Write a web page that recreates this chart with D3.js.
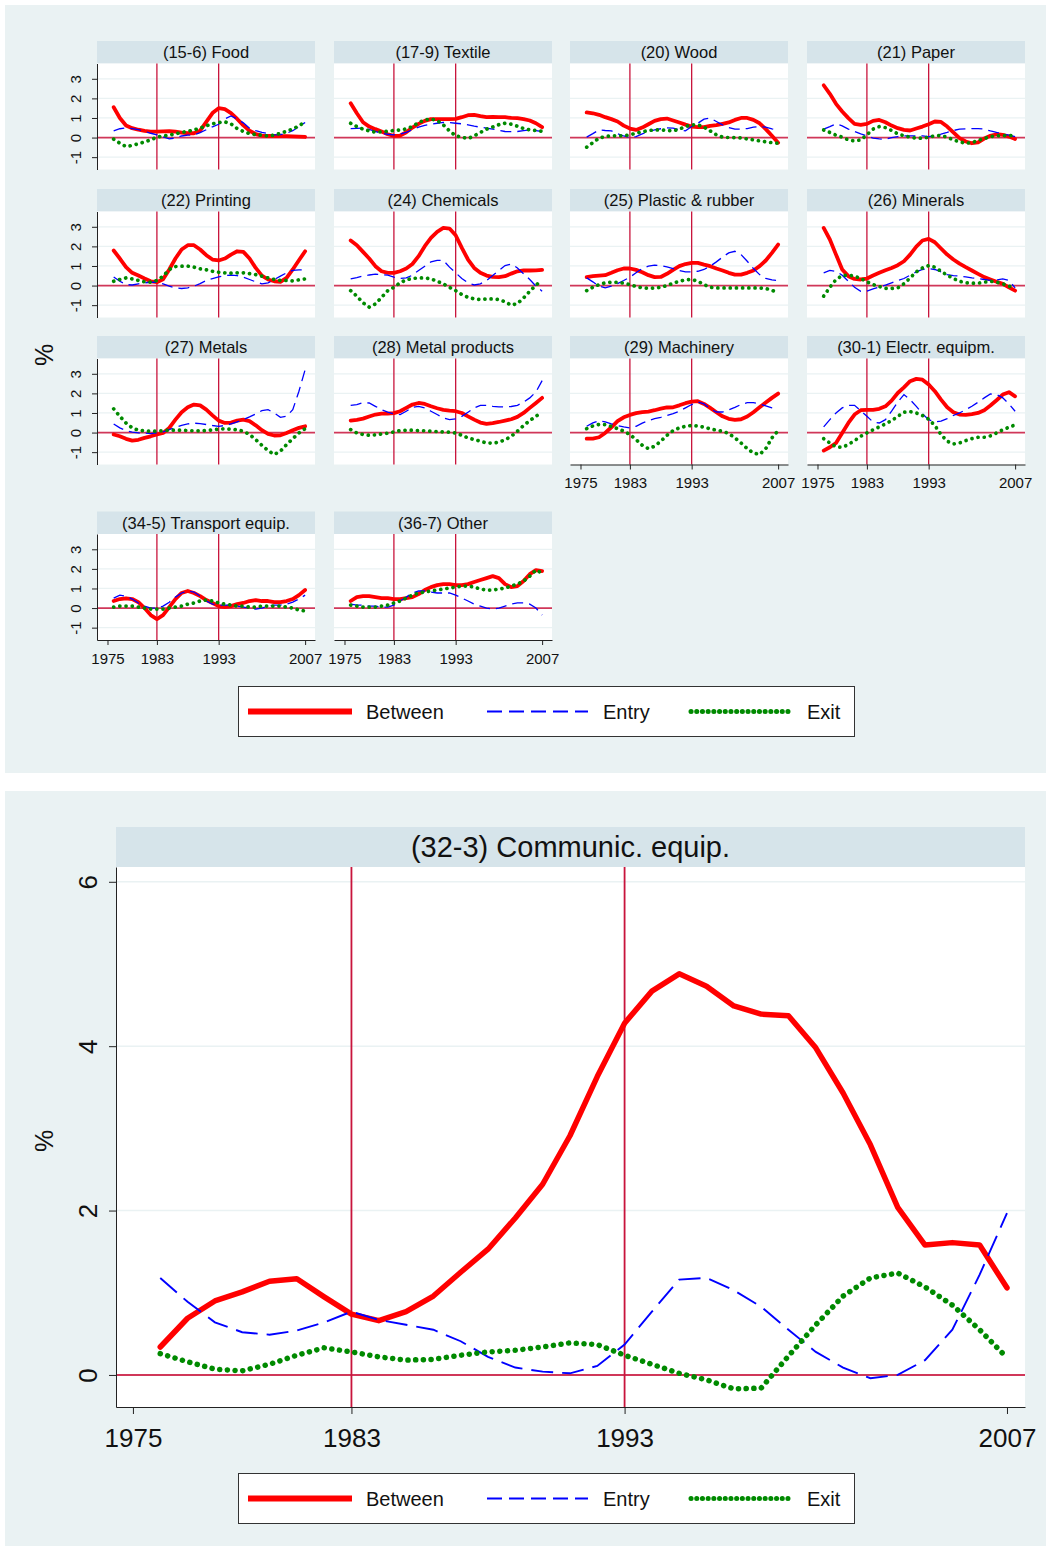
<!DOCTYPE html>
<html>
<head>
<meta charset="utf-8">
<script src="https://cdn.jsdelivr.net/npm/d3@7"></script>
<style>
  body { margin: 0; background: #fff; }
  svg { display: block; font-family: "Liberation Sans", Arial, sans-serif; }
</style>
</head>
<body>
<svg id="chart" width="1051" height="1551"></svg>
<script>
// ---- data: productivity decomposition components (%), by industry ----
const years = [1976,1977,1978,1979,1980,1981,1982,1983,1984,1985,1986,1987,1988,1989,1990,1991,
               1992,1993,1994,1995,1996,1997,1998,1999,2000,2001,2002,2003,2004,2005,2006,2007];
const xTicks = [1975, 1983, 1993, 2007];
const markerYears = [1983, 1993];
const yTicksSmall = [-1, 0, 1, 2, 3];
const yTicksLarge = [0, 2, 4, 6];
const seriesNames = ["Between", "Entry", "Exit"];

const industries = ["(15-6) Food", "(17-9) Textile", "(20) Wood", "(21) Paper",
                    "(22) Printing", "(24) Chemicals", "(25) Plastic & rubber", "(26) Minerals",
                    "(27) Metals", "(28) Metal products", "(29) Machinery", "(30-1) Electr. equipm.",
                    "(34-5) Transport equip.", "(36-7) Other"];

const betweenShares = [
  [1.55,1.0,0.62,0.48,0.40,0.34,0.30,0.30,0.32,0.33,0.30,0.25,0.22,0.22,0.35,0.80,1.25,1.50,1.45,1.25,0.95,0.62,0.35,0.18,0.10,0.08,0.08,0.07,0.07,0.06,0.05,0.03],
  [1.75,1.24,0.78,0.56,0.43,0.31,0.17,0.09,0.10,0.27,0.51,0.70,0.85,0.94,0.94,0.94,0.94,0.95,1.04,1.14,1.16,1.09,1.04,1.05,1.04,1.04,1.00,0.99,0.94,0.87,0.73,0.53],
  [1.28,1.24,1.16,1.04,0.94,0.82,0.61,0.46,0.39,0.51,0.68,0.85,0.94,0.97,0.87,0.77,0.66,0.56,0.53,0.53,0.60,0.63,0.70,0.77,0.90,1.00,1.00,0.90,0.73,0.43,0.09,-0.26],
  [2.67,2.23,1.72,1.33,0.99,0.70,0.65,0.70,0.85,0.90,0.78,0.61,0.48,0.39,0.36,0.46,0.56,0.68,0.82,0.80,0.56,0.26,-0.03,-0.20,-0.29,-0.24,-0.05,0.09,0.17,0.14,0.05,-0.07],
  [1.79,1.38,0.94,0.65,0.51,0.36,0.22,0.17,0.32,0.82,1.38,1.84,2.06,2.06,1.84,1.55,1.33,1.28,1.38,1.58,1.75,1.72,1.38,0.90,0.51,0.31,0.22,0.19,0.39,0.82,1.29,1.75],
  [2.30,2.06,1.72,1.38,0.99,0.73,0.65,0.65,0.73,0.87,1.10,1.50,2.01,2.43,2.74,2.94,2.91,2.57,1.92,1.33,0.90,0.65,0.51,0.44,0.43,0.48,0.61,0.73,0.77,0.77,0.78,0.80],
  [0.43,0.48,0.51,0.53,0.65,0.78,0.87,0.87,0.80,0.68,0.53,0.43,0.44,0.60,0.80,0.99,1.10,1.16,1.16,1.07,0.99,0.87,0.77,0.65,0.56,0.56,0.65,0.77,0.99,1.28,1.67,2.09],
  [2.94,2.35,1.58,0.82,0.48,0.34,0.31,0.36,0.51,0.65,0.78,0.90,1.04,1.24,1.58,1.99,2.30,2.38,2.21,1.89,1.58,1.33,1.12,0.94,0.77,0.60,0.43,0.31,0.19,0.09,-0.09,-0.26],
  [-0.10,-0.19,-0.32,-0.41,-0.37,-0.27,-0.19,-0.10,-0.02,0.24,0.66,1.04,1.29,1.43,1.39,1.17,0.88,0.61,0.49,0.51,0.61,0.66,0.58,0.37,0.12,-0.07,-0.15,-0.14,-0.02,0.12,0.24,0.32],
  [0.61,0.65,0.71,0.82,0.92,0.97,0.97,0.99,1.09,1.26,1.43,1.51,1.46,1.34,1.24,1.16,1.12,1.09,1.00,0.83,0.66,0.51,0.44,0.48,0.54,0.61,0.68,0.80,1.00,1.26,1.51,1.77],
  [-0.31,-0.31,-0.24,-0.02,0.27,0.58,0.78,0.90,0.99,1.04,1.07,1.14,1.22,1.28,1.29,1.39,1.50,1.58,1.60,1.46,1.26,1.04,0.83,0.70,0.65,0.68,0.82,1.04,1.29,1.53,1.77,1.99],
  [-0.92,-0.75,-0.53,-0.02,0.49,0.92,1.14,1.16,1.16,1.21,1.34,1.63,2.02,2.31,2.62,2.74,2.70,2.45,2.11,1.68,1.29,1.04,0.92,0.90,0.94,1.00,1.14,1.38,1.65,1.94,2.06,1.85],
  [0.36,0.46,0.50,0.46,0.30,0.00,-0.36,-0.56,-0.36,0.05,0.46,0.77,0.87,0.77,0.61,0.41,0.26,0.10,0.05,0.10,0.20,0.26,0.36,0.41,0.36,0.36,0.30,0.30,0.36,0.46,0.66,0.92],
  [0.36,0.56,0.61,0.61,0.56,0.51,0.51,0.46,0.46,0.51,0.56,0.71,0.92,1.07,1.17,1.22,1.22,1.17,1.17,1.22,1.33,1.43,1.53,1.63,1.53,1.22,1.07,1.12,1.38,1.73,1.94,1.89]
];

const entryShares = [
  [0.34,0.45,0.50,0.46,0.40,0.32,0.22,0.14,0.04,-0.07,-0.02,0.08,0.12,0.14,0.25,0.40,0.55,0.68,0.95,1.10,0.95,0.75,0.48,0.35,0.27,0.20,0.14,0.15,0.22,0.35,0.56,0.77],
  [0.46,0.47,0.48,0.42,0.31,0.22,0.17,0.14,0.18,0.27,0.40,0.53,0.62,0.68,0.73,0.77,0.76,0.73,0.70,0.65,0.58,0.53,0.48,0.43,0.37,0.31,0.30,0.31,0.35,0.39,0.35,0.31],
  [0.02,0.20,0.39,0.36,0.34,0.19,0.08,0.00,0.05,0.19,0.30,0.39,0.45,0.49,0.48,0.39,0.34,0.56,0.73,0.94,0.99,0.82,0.65,0.51,0.43,0.43,0.46,0.53,0.56,0.53,0.44,0.39],
  [0.43,0.56,0.70,0.60,0.43,0.31,0.19,0.09,-0.03,-0.07,-0.09,0.00,0.05,0.09,0.09,0.09,0.09,0.05,0.09,0.17,0.26,0.36,0.43,0.44,0.46,0.46,0.43,0.34,0.26,0.19,0.12,0.05],
  [0.44,0.22,0.05,0.03,0.09,0.14,0.17,0.17,0.09,-0.03,-0.12,-0.15,-0.12,-0.03,0.10,0.26,0.36,0.44,0.51,0.53,0.51,0.43,0.31,0.19,0.09,0.14,0.31,0.48,0.65,0.77,0.80,0.80],
  [0.34,0.41,0.49,0.54,0.58,0.56,0.53,0.43,0.36,0.39,0.53,0.77,0.99,1.21,1.29,1.29,0.94,0.65,0.36,0.14,0.03,0.09,0.26,0.51,0.77,1.02,1.10,0.90,0.60,0.31,-0.03,-0.29],
  [0.39,0.19,-0.03,-0.12,-0.03,0.10,0.26,0.43,0.65,0.87,0.99,1.04,1.02,0.95,0.87,0.77,0.70,0.70,0.73,0.82,0.99,1.21,1.45,1.67,1.75,1.58,1.24,0.87,0.56,0.36,0.29,0.26],
  [0.65,0.77,0.73,0.53,0.22,-0.09,-0.29,-0.29,-0.17,-0.07,0.02,0.14,0.26,0.36,0.53,0.70,0.82,0.87,0.82,0.70,0.56,0.51,0.48,0.44,0.39,0.36,0.31,0.27,0.29,0.34,0.26,-0.12],
  [0.44,0.24,0.10,0.02,-0.02,-0.03,-0.05,-0.02,0.03,0.15,0.27,0.37,0.44,0.48,0.46,0.41,0.36,0.32,0.36,0.44,0.54,0.66,0.80,0.95,1.12,1.17,1.00,0.78,0.83,1.17,2.11,3.21],
  [1.39,1.43,1.53,1.51,1.34,1.17,1.04,0.95,0.92,1.09,1.29,1.34,1.26,1.09,0.92,0.75,0.66,0.70,0.83,1.04,1.26,1.39,1.39,1.34,1.31,1.31,1.33,1.39,1.55,1.77,2.07,2.65],
  [0.32,0.49,0.61,0.54,0.44,0.36,0.29,0.24,0.32,0.48,0.61,0.71,0.78,0.87,0.97,1.09,1.26,1.43,1.56,1.46,1.22,1.05,1.05,1.16,1.29,1.43,1.53,1.53,1.46,1.36,1.26,1.20],
  [0.29,0.66,1.00,1.26,1.39,1.39,1.12,0.83,0.54,0.49,0.66,1.09,1.56,1.94,1.68,1.34,0.95,0.66,0.54,0.58,0.71,0.87,1.00,1.17,1.34,1.55,1.77,1.97,1.94,1.77,1.46,1.09],
  [0.51,0.66,0.61,0.46,0.26,0.10,0.00,0.00,0.10,0.30,0.56,0.77,0.87,0.82,0.61,0.36,0.20,0.15,0.15,0.15,0.10,0.05,0.00,-0.05,0.00,0.10,0.15,0.15,0.20,0.30,0.46,0.66],
  [0.20,0.15,0.15,0.10,0.10,0.05,0.05,0.15,0.36,0.56,0.77,0.87,0.87,0.82,0.77,0.77,0.77,0.66,0.51,0.36,0.20,0.10,0.00,-0.05,0.00,0.10,0.20,0.26,0.26,0.20,0.00,-0.36]
];

const exitShares = [
  [-0.08,-0.29,-0.46,-0.40,-0.32,-0.22,-0.12,0.02,0.08,0.12,0.19,0.26,0.32,0.39,0.48,0.60,0.70,0.77,0.80,0.70,0.46,0.31,0.20,0.15,0.12,0.08,0.12,0.22,0.32,0.44,0.60,0.80],
  [0.73,0.56,0.43,0.34,0.27,0.29,0.32,0.36,0.39,0.44,0.56,0.77,0.90,0.95,0.87,0.65,0.34,0.09,0.02,-0.05,0.09,0.26,0.43,0.54,0.66,0.73,0.68,0.58,0.46,0.39,0.36,0.32],
  [-0.49,-0.26,-0.03,0.05,0.09,0.09,0.09,0.14,0.22,0.29,0.36,0.39,0.39,0.36,0.34,0.43,0.56,0.65,0.65,0.53,0.34,0.14,0.02,0.00,0.00,-0.02,-0.07,-0.12,-0.17,-0.22,-0.26,-0.29],
  [0.39,0.26,0.12,0.02,-0.12,-0.17,-0.12,0.14,0.43,0.56,0.51,0.36,0.19,0.09,0.02,-0.03,-0.03,0.02,0.09,0.10,0.02,-0.12,-0.22,-0.29,-0.26,-0.15,-0.05,0.05,0.09,0.10,0.09,0.12],
  [0.22,0.31,0.39,0.34,0.26,0.19,0.17,0.26,0.48,0.82,0.97,0.99,0.99,0.94,0.85,0.80,0.73,0.68,0.65,0.63,0.65,0.65,0.61,0.56,0.48,0.39,0.31,0.26,0.26,0.24,0.29,0.34],
  [-0.26,-0.54,-0.88,-1.10,-0.94,-0.60,-0.26,-0.09,0.14,0.29,0.36,0.39,0.39,0.34,0.22,0.09,-0.09,-0.26,-0.46,-0.60,-0.68,-0.71,-0.68,-0.68,-0.71,-0.83,-1.00,-0.92,-0.63,-0.29,0.02,0.26],
  [-0.26,-0.09,0.05,0.14,0.17,0.17,0.12,0.05,-0.05,-0.12,-0.14,-0.12,-0.09,0.00,0.12,0.22,0.29,0.31,0.22,0.05,-0.09,-0.12,-0.12,-0.12,-0.12,-0.12,-0.12,-0.12,-0.12,-0.15,-0.24,-0.37],
  [-0.54,-0.09,0.31,0.51,0.53,0.48,0.36,0.19,0.05,-0.05,-0.14,-0.15,-0.12,0.09,0.39,0.70,0.90,1.02,0.94,0.73,0.53,0.36,0.22,0.14,0.12,0.12,0.17,0.22,0.17,0.09,-0.03,-0.12],
  [1.21,0.83,0.49,0.24,0.12,0.09,0.07,0.07,0.09,0.12,0.12,0.12,0.10,0.09,0.09,0.10,0.14,0.17,0.19,0.17,0.14,0.07,-0.10,-0.36,-0.65,-0.92,-1.12,-0.95,-0.61,-0.31,-0.02,0.20],
  [0.15,-0.02,-0.10,-0.14,-0.12,-0.07,-0.03,0.03,0.10,0.12,0.12,0.10,0.09,0.07,0.05,0.03,0.02,-0.02,-0.14,-0.27,-0.36,-0.44,-0.53,-0.54,-0.49,-0.37,-0.19,0.07,0.36,0.61,0.83,1.05],
  [0.20,0.34,0.41,0.41,0.31,0.20,0.07,-0.10,-0.36,-0.65,-0.82,-0.70,-0.44,-0.14,0.10,0.24,0.32,0.36,0.34,0.27,0.19,0.12,0.07,-0.05,-0.27,-0.53,-0.82,-1.04,-1.12,-0.82,-0.27,0.10],
  [-0.31,-0.53,-0.73,-0.75,-0.61,-0.41,-0.19,-0.02,0.14,0.29,0.44,0.61,0.83,1.04,1.07,1.00,0.87,0.68,0.36,-0.10,-0.44,-0.58,-0.53,-0.41,-0.31,-0.24,-0.24,-0.17,-0.02,0.14,0.27,0.39],
  [0.05,0.10,0.10,0.10,0.05,0.00,-0.05,-0.05,-0.05,0.00,0.05,0.10,0.20,0.26,0.36,0.41,0.36,0.26,0.20,0.15,0.10,0.10,0.05,0.05,0.10,0.10,0.10,0.10,0.05,0.00,-0.10,-0.15],
  [0.15,0.10,0.05,0.05,0.05,0.10,0.15,0.26,0.36,0.51,0.66,0.77,0.82,0.87,0.92,0.97,1.02,1.07,1.12,1.12,1.07,0.97,0.92,0.92,0.97,1.02,1.12,1.22,1.38,1.63,1.94,1.79]
];

// communication equipment, shown on its own
const commTitle = "(32-3) Communic. equip.";
const commBetween = [0.34,0.69,0.90,1.01,1.14,1.17,0.95,0.74,0.66,0.77,0.96,1.25,1.53,1.91,2.32,2.91,3.63,4.28,4.67,4.88,4.73,4.49,4.39,4.37,3.98,3.43,2.80,2.04,1.58,1.61,1.58,1.06];
const commEntry   = [1.18,0.89,0.64,0.52,0.49,0.54,0.64,0.77,0.67,0.61,0.55,0.41,0.22,0.09,0.04,0.02,0.11,0.37,0.77,1.16,1.18,1.03,0.83,0.55,0.28,0.09,-0.04,0.00,0.18,0.55,1.22,1.97];
const commExit    = [0.26,0.16,0.07,0.05,0.13,0.24,0.33,0.28,0.22,0.18,0.19,0.24,0.28,0.30,0.34,0.39,0.37,0.24,0.13,0.02,-0.06,-0.17,-0.16,0.23,0.61,0.96,1.18,1.24,1.07,0.85,0.55,0.21];

// ---- styling ----
const BG = "#EAF2F3", STRIP = "#D6E4EA", GRID = "#EAF2F3", REF = "#C8143C";
const RED = "#FF0000", BLUE = "#0000FF", GREEN = "#008A00", AXIS = "#222";
const plainNumber = d => String(d);   // ASCII hyphen for negatives

const svg = d3.select("#chart");
svg.append("rect").attr("x", 5).attr("y", 5).attr("width", 1041).attr("height", 768).attr("fill", BG);
svg.append("rect").attr("x", 5).attr("y", 791).attr("width", 1041).attr("height", 755).attr("fill", BG);

function panel(o) {
  const x = d3.scaleLinear().domain(o.xDomain).range([o.left, o.left + o.width]);
  const y = d3.scaleLinear().domain(o.yDomain).range([o.top + o.height, o.top]);
  const g = svg.append("g");

  g.append("rect").attr("x", o.left).attr("y", o.top - o.stripH)
    .attr("width", o.width).attr("height", o.stripH).attr("fill", STRIP);
  g.append("text").attr("x", o.left + o.width / 2).attr("y", o.top - o.stripH / 2)
    .attr("dy", "0.36em").attr("text-anchor", "middle").attr("font-size", o.titleSize)
    .attr("fill", "#111").text(o.title);

  g.append("rect").attr("x", o.left).attr("y", o.top)
    .attr("width", o.width).attr("height", o.height).attr("fill", "#fff");

  // horizontal grid
  g.selectAll(".grid").data(o.yTicks.filter(v => v !== 0)).join("line")
    .attr("x1", o.left).attr("x2", o.left + o.width)
    .attr("y1", d => y(d)).attr("y2", d => y(d))
    .attr("stroke", GRID).attr("stroke-width", o.gridW);

  // reference lines
  g.selectAll(".vref").data(markerYears).join("line")
    .attr("x1", d => x(d)).attr("x2", d => x(d))
    .attr("y1", o.top).attr("y2", o.top + o.height)
    .attr("stroke", REF).attr("stroke-width", o.refW);
  g.append("line").attr("x1", o.left).attr("x2", o.left + o.width)
    .attr("y1", y(0)).attr("y2", y(0))
    .attr("stroke", REF).attr("stroke-width", o.zeroW).attr("stroke-opacity", 0.85);

  const line = d3.line().x((d, i) => x(years[i])).y(d => y(d));
  const st = o.styles;
  g.append("path").datum(o.between).attr("d", line).attr("fill", "none")
    .attr("stroke", RED).attr("stroke-width", st.redW)
    .attr("stroke-linejoin", "round").attr("stroke-linecap", "round");
  g.append("path").datum(o.entry).attr("d", line).attr("fill", "none")
    .attr("stroke", BLUE).attr("stroke-width", st.blueW).attr("stroke-dasharray", st.blueDash);
  g.append("path").datum(o.exit).attr("d", line).attr("fill", "none")
    .attr("stroke", GREEN).attr("stroke-width", st.greenW)
    .attr("stroke-linecap", "round").attr("stroke-dasharray", st.greenDash);

  if (o.showY) {
    const ay = g.append("g").attr("transform", `translate(${o.left},0)`)
      .call(d3.axisLeft(y).tickValues(o.yTicks).tickSize(o.tickLen).tickSizeOuter(0)
        .tickFormat(plainNumber));
    ay.select(".domain").attr("stroke", AXIS);
    ay.selectAll(".tick line").attr("stroke", AXIS);
    ay.selectAll(".tick text")
      .attr("x", null).attr("dy", null).attr("text-anchor", "middle")
      .attr("transform", `translate(${-o.yLabelOff},0) rotate(-90)`)
      .attr("font-size", o.labelSize).attr("font-family", "Liberation Sans, Arial, sans-serif")
      .attr("fill", "#111");
  }
  if (o.showX) {
    const ax = g.append("g").attr("transform", `translate(0,${o.top + o.height})`)
      .call(d3.axisBottom(x).tickValues(xTicks).tickSize(o.tickLen).tickSizeOuter(0)
        .tickPadding(o.xPad).tickFormat(plainNumber));
    ax.select(".domain").attr("stroke", AXIS);
    ax.selectAll(".tick line").attr("stroke", AXIS);
    ax.selectAll(".tick text").attr("font-size", o.labelSize)
      .attr("font-family", "Liberation Sans, Arial, sans-serif").attr("fill", "#111");
  }
}

// small multiples
const colLeft = [97, 334, 570, 807];
const rowTop = [63.5, 211.5, 358.5, 534];
const smallStyles = { redW: 3.8, blueW: 1.3, blueDash: "11,6", greenW: 3.7, greenDash: "0.1,6.1" };

industries.forEach((name, i) => {
  const col = i % 4, row = Math.floor(i / 4);
  panel({
    left: colLeft[col], top: rowTop[row], width: 218, height: 106, stripH: 22.5,
    xDomain: [1973.3, 2008.6], yDomain: [-1.63, 3.78],
    title: name, titleSize: 16.5, yTicks: yTicksSmall,
    gridW: 1.2, refW: 1.3, zeroW: 1.8, tickLen: 5, xPad: 8, yLabelOff: 16, labelSize: 15,
    showY: col === 0, showX: i >= 10,
    between: betweenShares[i], entry: entryShares[i], exit: exitShares[i],
    styles: smallStyles
  });
});

// large panel
panel({
  left: 116, top: 867, width: 909, height: 540, stripH: 40,
  xDomain: [1974.38, 2007.66], yDomain: [-0.39, 6.18],
  title: commTitle, titleSize: 29, yTicks: yTicksLarge,
  gridW: 1.6, refW: 1.8, zeroW: 2, tickLen: 7, xPad: 15, yLabelOff: 19, labelSize: 26,
  showY: true, showX: true,
  between: commBetween, entry: commEntry, exit: commExit,
  styles: { redW: 5.5, blueW: 1.9, blueDash: "22,9", greenW: 5.5, greenDash: "0.1,7.6" }
});

// "%" axis titles
[355, 1141].forEach(cy => {
  svg.append("text").attr("transform", `translate(53,${cy}) rotate(-90)`)
    .attr("text-anchor", "middle").attr("font-size", 25).attr("fill", "#111").text("%");
});

// legends
function legend(top) {
  const g = svg.append("g");
  g.append("rect").attr("x", 238.5).attr("y", top + 0.5).attr("width", 616).attr("height", 50)
    .attr("fill", "#fff").attr("stroke", "#333").attr("stroke-width", 1);
  const cy = top + 25.5;
  const keys = [
    { x1: 248, x2: 352, tx: 366, color: RED, w: 6, dash: null, cap: "butt" },
    { x1: 487, x2: 588, tx: 603, color: BLUE, w: 1.9, dash: "15,7", cap: "butt" },
    { x1: 691, x2: 792, tx: 807, color: GREEN, w: 5, dash: "0.1,5.6", cap: "round" }
  ];
  keys.forEach((k, i) => {
    g.append("line").attr("x1", k.x1).attr("x2", k.x2).attr("y1", cy).attr("y2", cy)
      .attr("stroke", k.color).attr("stroke-width", k.w)
      .attr("stroke-dasharray", k.dash).attr("stroke-linecap", k.cap);
    g.append("text").attr("x", k.tx).attr("y", cy).attr("dy", "0.36em")
      .attr("font-size", 20).attr("fill", "#111").text(seriesNames[i]);
  });
}
legend(686);
legend(1473);
</script>
</body>
</html>
